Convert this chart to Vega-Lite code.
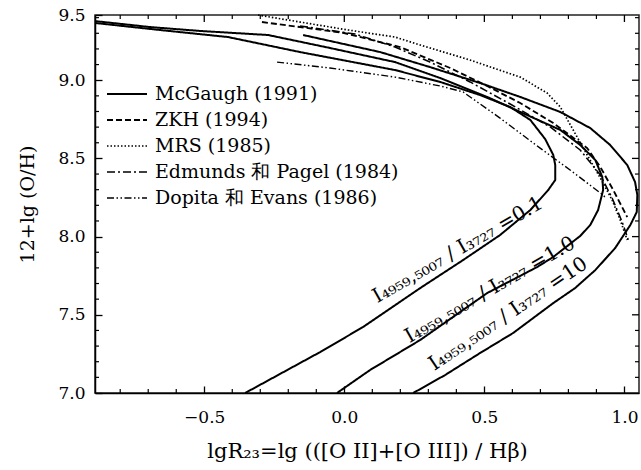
{
  "$schema": "https://vega.github.io/schema/vega-lite/v6.json",
  "width": 544,
  "height": 378,
  "autosize": {"type": "none"},
  "padding": {"left": 95, "top": 15, "right": 2, "bottom": 77},
  "background": "white",
  "config": {"view": {"stroke": "#222", "strokeWidth": 1.5}, "font": "DejaVu Serif"},
  "datasets": {
    "curves": [
      {"s": "McGaugh (1991)", "c": "m01", "o": 1, "x": -0.89, "y": 9.366},
      {"s": "McGaugh (1991)", "c": "m01", "o": 2, "x": -0.658, "y": 9.321},
      {"s": "McGaugh (1991)", "c": "m01", "o": 3, "x": -0.415, "y": 9.276},
      {"s": "McGaugh (1991)", "c": "m01", "o": 4, "x": -0.158, "y": 9.18},
      {"s": "McGaugh (1991)", "c": "m01", "o": 5, "x": 0.181, "y": 9.065},
      {"s": "McGaugh (1991)", "c": "m01", "o": 6, "x": 0.342, "y": 8.989},
      {"s": "McGaugh (1991)", "c": "m01", "o": 7, "x": 0.485, "y": 8.905},
      {"s": "McGaugh (1991)", "c": "m01", "o": 8, "x": 0.592, "y": 8.829},
      {"s": "McGaugh (1991)", "c": "m01", "o": 9, "x": 0.664, "y": 8.746},
      {"s": "McGaugh (1991)", "c": "m01", "o": 10, "x": 0.717, "y": 8.624},
      {"s": "McGaugh (1991)", "c": "m01", "o": 11, "x": 0.746, "y": 8.522},
      {"s": "McGaugh (1991)", "c": "m01", "o": 12, "x": 0.753, "y": 8.458},
      {"s": "McGaugh (1991)", "c": "m01", "o": 13, "x": 0.753, "y": 8.362},
      {"s": "McGaugh (1991)", "c": "m01", "o": 14, "x": 0.728, "y": 8.298},
      {"s": "McGaugh (1991)", "c": "m01", "o": 15, "x": 0.664, "y": 8.17},
      {"s": "McGaugh (1991)", "c": "m01", "o": 16, "x": 0.556, "y": 8.01},
      {"s": "McGaugh (1991)", "c": "m01", "o": 17, "x": 0.424, "y": 7.85},
      {"s": "McGaugh (1991)", "c": "m01", "o": 18, "x": 0.271, "y": 7.671},
      {"s": "McGaugh (1991)", "c": "m01", "o": 19, "x": 0.067, "y": 7.422},
      {"s": "McGaugh (1991)", "c": "m01", "o": 20, "x": -0.086, "y": 7.262},
      {"s": "McGaugh (1991)", "c": "m01", "o": 21, "x": -0.354, "y": 7.0},
      {"s": "McGaugh (1991)", "c": "m1", "o": 1, "x": -0.89, "y": 9.378},
      {"s": "McGaugh (1991)", "c": "m1", "o": 2, "x": -0.694, "y": 9.34},
      {"s": "McGaugh (1991)", "c": "m1", "o": 3, "x": -0.515, "y": 9.315},
      {"s": "McGaugh (1991)", "c": "m1", "o": 4, "x": -0.272, "y": 9.289},
      {"s": "McGaugh (1991)", "c": "m1", "o": 5, "x": -0.051, "y": 9.206},
      {"s": "McGaugh (1991)", "c": "m1", "o": 6, "x": 0.181, "y": 9.116},
      {"s": "McGaugh (1991)", "c": "m1", "o": 7, "x": 0.342, "y": 9.014},
      {"s": "McGaugh (1991)", "c": "m1", "o": 8, "x": 0.51, "y": 8.893},
      {"s": "McGaugh (1991)", "c": "m1", "o": 9, "x": 0.628, "y": 8.797},
      {"s": "McGaugh (1991)", "c": "m1", "o": 10, "x": 0.771, "y": 8.682},
      {"s": "McGaugh (1991)", "c": "m1", "o": 11, "x": 0.842, "y": 8.586},
      {"s": "McGaugh (1991)", "c": "m1", "o": 12, "x": 0.896, "y": 8.49},
      {"s": "McGaugh (1991)", "c": "m1", "o": 13, "x": 0.921, "y": 8.381},
      {"s": "McGaugh (1991)", "c": "m1", "o": 14, "x": 0.924, "y": 8.298},
      {"s": "McGaugh (1991)", "c": "m1", "o": 15, "x": 0.906, "y": 8.17},
      {"s": "McGaugh (1991)", "c": "m1", "o": 16, "x": 0.878, "y": 8.074},
      {"s": "McGaugh (1991)", "c": "m1", "o": 17, "x": 0.842, "y": 8.004},
      {"s": "McGaugh (1991)", "c": "m1", "o": 18, "x": 0.746, "y": 7.87},
      {"s": "McGaugh (1991)", "c": "m1", "o": 19, "x": 0.689, "y": 7.806},
      {"s": "McGaugh (1991)", "c": "m1", "o": 20, "x": 0.51, "y": 7.639},
      {"s": "McGaugh (1991)", "c": "m1", "o": 21, "x": 0.271, "y": 7.339},
      {"s": "McGaugh (1991)", "c": "m1", "o": 22, "x": 0.092, "y": 7.147},
      {"s": "McGaugh (1991)", "c": "m1", "o": 23, "x": -0.026, "y": 7.0},
      {"s": "McGaugh (1991)", "c": "m10", "o": 1, "x": -0.147, "y": 9.289},
      {"s": "McGaugh (1991)", "c": "m10", "o": 2, "x": 0.128, "y": 9.18},
      {"s": "McGaugh (1991)", "c": "m10", "o": 3, "x": 0.306, "y": 9.084},
      {"s": "McGaugh (1991)", "c": "m10", "o": 4, "x": 0.485, "y": 8.982},
      {"s": "McGaugh (1991)", "c": "m10", "o": 5, "x": 0.628, "y": 8.893},
      {"s": "McGaugh (1991)", "c": "m10", "o": 6, "x": 0.771, "y": 8.797},
      {"s": "McGaugh (1991)", "c": "m10", "o": 7, "x": 0.878, "y": 8.694},
      {"s": "McGaugh (1991)", "c": "m10", "o": 8, "x": 0.949, "y": 8.586},
      {"s": "McGaugh (1991)", "c": "m10", "o": 9, "x": 1.01, "y": 8.458},
      {"s": "McGaugh (1991)", "c": "m10", "o": 10, "x": 1.038, "y": 8.349},
      {"s": "McGaugh (1991)", "c": "m10", "o": 11, "x": 1.046, "y": 8.266},
      {"s": "McGaugh (1991)", "c": "m10", "o": 12, "x": 1.044, "y": 8.157},
      {"s": "McGaugh (1991)", "c": "m10", "o": 13, "x": 1.021, "y": 8.074},
      {"s": "McGaugh (1991)", "c": "m10", "o": 14, "x": 0.967, "y": 7.927},
      {"s": "McGaugh (1991)", "c": "m10", "o": 15, "x": 0.896, "y": 7.786},
      {"s": "McGaugh (1991)", "c": "m10", "o": 16, "x": 0.824, "y": 7.671},
      {"s": "McGaugh (1991)", "c": "m10", "o": 17, "x": 0.746, "y": 7.575},
      {"s": "McGaugh (1991)", "c": "m10", "o": 18, "x": 0.603, "y": 7.384},
      {"s": "McGaugh (1991)", "c": "m10", "o": 19, "x": 0.485, "y": 7.256},
      {"s": "McGaugh (1991)", "c": "m10", "o": 20, "x": 0.36, "y": 7.115},
      {"s": "McGaugh (1991)", "c": "m10", "o": 21, "x": 0.246, "y": 7.0},
      {"s": "ZKH (1994)", "c": "zkh", "o": 1, "x": -0.294, "y": 9.372},
      {"s": "ZKH (1994)", "c": "zkh", "o": 2, "x": -0.158, "y": 9.34},
      {"s": "ZKH (1994)", "c": "zkh", "o": 3, "x": -0.001, "y": 9.302},
      {"s": "ZKH (1994)", "c": "zkh", "o": 4, "x": 0.199, "y": 9.212},
      {"s": "ZKH (1994)", "c": "zkh", "o": 5, "x": 0.378, "y": 9.078},
      {"s": "ZKH (1994)", "c": "zkh", "o": 6, "x": 0.51, "y": 8.963},
      {"s": "ZKH (1994)", "c": "zkh", "o": 7, "x": 0.628, "y": 8.854},
      {"s": "ZKH (1994)", "c": "zkh", "o": 8, "x": 0.746, "y": 8.726},
      {"s": "ZKH (1994)", "c": "zkh", "o": 9, "x": 0.867, "y": 8.566},
      {"s": "ZKH (1994)", "c": "zkh", "o": 10, "x": 0.914, "y": 8.445},
      {"s": "ZKH (1994)", "c": "zkh", "o": 11, "x": 0.96, "y": 8.298},
      {"s": "ZKH (1994)", "c": "zkh", "o": 12, "x": 1.01, "y": 8.125},
      {"s": "MRS (1985)", "c": "mrs", "o": 1, "x": -0.308, "y": 9.417},
      {"s": "MRS (1985)", "c": "mrs", "o": 2, "x": -0.158, "y": 9.372},
      {"s": "MRS (1985)", "c": "mrs", "o": 3, "x": 0.014, "y": 9.321},
      {"s": "MRS (1985)", "c": "mrs", "o": 4, "x": 0.181, "y": 9.276},
      {"s": "MRS (1985)", "c": "mrs", "o": 5, "x": 0.271, "y": 9.225},
      {"s": "MRS (1985)", "c": "mrs", "o": 6, "x": 0.449, "y": 9.129},
      {"s": "MRS (1985)", "c": "mrs", "o": 7, "x": 0.628, "y": 9.02},
      {"s": "MRS (1985)", "c": "mrs", "o": 8, "x": 0.724, "y": 8.918},
      {"s": "MRS (1985)", "c": "mrs", "o": 9, "x": 0.771, "y": 8.829},
      {"s": "MRS (1985)", "c": "mrs", "o": 10, "x": 0.817, "y": 8.682},
      {"s": "MRS (1985)", "c": "mrs", "o": 11, "x": 0.867, "y": 8.522},
      {"s": "MRS (1985)", "c": "mrs", "o": 12, "x": 0.914, "y": 8.375},
      {"s": "MRS (1985)", "c": "mrs", "o": 13, "x": 0.956, "y": 8.234},
      {"s": "MRS (1985)", "c": "mrs", "o": 14, "x": 0.985, "y": 8.106},
      {"s": "MRS (1985)", "c": "mrs", "o": 15, "x": 1.01, "y": 7.978},
      {"s": "Edmunds 和 Pagel (1984)", "c": "ep", "o": 1, "x": -0.158, "y": 9.347},
      {"s": "Edmunds 和 Pagel (1984)", "c": "ep", "o": 2, "x": 0.039, "y": 9.295},
      {"s": "Edmunds 和 Pagel (1984)", "c": "ep", "o": 3, "x": 0.181, "y": 9.212},
      {"s": "Edmunds 和 Pagel (1984)", "c": "ep", "o": 4, "x": 0.306, "y": 9.116},
      {"s": "Edmunds 和 Pagel (1984)", "c": "ep", "o": 5, "x": 0.449, "y": 8.989},
      {"s": "Edmunds 和 Pagel (1984)", "c": "ep", "o": 6, "x": 0.592, "y": 8.848},
      {"s": "Edmunds 和 Pagel (1984)", "c": "ep", "o": 7, "x": 0.735, "y": 8.701},
      {"s": "Edmunds 和 Pagel (1984)", "c": "ep", "o": 8, "x": 0.842, "y": 8.554},
      {"s": "Edmunds 和 Pagel (1984)", "c": "ep", "o": 9, "x": 0.914, "y": 8.394},
      {"s": "Edmunds 和 Pagel (1984)", "c": "ep", "o": 10, "x": 0.956, "y": 8.247},
      {"s": "Edmunds 和 Pagel (1984)", "c": "ep", "o": 11, "x": 0.992, "y": 8.093},
      {"s": "Edmunds 和 Pagel (1984)", "c": "ep", "o": 12, "x": 1.014, "y": 7.978},
      {"s": "Dopita 和 Evans (1986)", "c": "de", "o": 1, "x": -0.24, "y": 9.116},
      {"s": "Dopita 和 Evans (1986)", "c": "de", "o": 2, "x": -0.051, "y": 9.078},
      {"s": "Dopita 和 Evans (1986)", "c": "de", "o": 3, "x": 0.181, "y": 9.02},
      {"s": "Dopita 和 Evans (1986)", "c": "de", "o": 4, "x": 0.342, "y": 8.963},
      {"s": "Dopita 和 Evans (1986)", "c": "de", "o": 5, "x": 0.424, "y": 8.925},
      {"s": "Dopita 和 Evans (1986)", "c": "de", "o": 6, "x": 0.556, "y": 8.758},
      {"s": "Dopita 和 Evans (1986)", "c": "de", "o": 7, "x": 0.699, "y": 8.566},
      {"s": "Dopita 和 Evans (1986)", "c": "de", "o": 8, "x": 0.806, "y": 8.426},
      {"s": "Dopita 和 Evans (1986)", "c": "de", "o": 9, "x": 0.914, "y": 8.279},
      {"s": "Dopita 和 Evans (1986)", "c": "de", "o": 10, "x": 0.931, "y": 8.253}
    ],
    "labels": [
      {"k": "0.1", "t": "I₄₉₅₉,₅₀₀₇ / I₃₇₂₇ =0.1", "x": 0.405, "y": 7.915},
      {"k": "1.0", "t": "I₄₉₅₉,₅₀₀₇ / I₃₇₂₇ =1.0", "x": 0.52, "y": 7.66},
      {"k": "10", "t": "I₄₉₅₉,₅₀₀₇ / I₃₇₂₇ =10", "x": 0.585, "y": 7.505}
    ],
    "xt": [
      {"v": -0.8, "m": 0}, {"v": -0.7, "m": 0}, {"v": -0.6, "m": 0}, {"v": -0.5, "m": 1},
      {"v": -0.4, "m": 0}, {"v": -0.3, "m": 0}, {"v": -0.2, "m": 0}, {"v": -0.1, "m": 0},
      {"v": 0.0, "m": 1}, {"v": 0.1, "m": 0}, {"v": 0.2, "m": 0}, {"v": 0.3, "m": 0},
      {"v": 0.4, "m": 0}, {"v": 0.5, "m": 1}, {"v": 0.6, "m": 0}, {"v": 0.7, "m": 0},
      {"v": 0.8, "m": 0}, {"v": 0.9, "m": 0}, {"v": 1.0, "m": 1}
    ],
    "yt": [
      {"v": 7.1, "m": 0}, {"v": 7.2, "m": 0}, {"v": 7.3, "m": 0}, {"v": 7.4, "m": 0}, {"v": 7.5, "m": 1},
      {"v": 7.6, "m": 0}, {"v": 7.7, "m": 0}, {"v": 7.8, "m": 0}, {"v": 7.9, "m": 0}, {"v": 8.0, "m": 1},
      {"v": 8.1, "m": 0}, {"v": 8.2, "m": 0}, {"v": 8.3, "m": 0}, {"v": 8.4, "m": 0}, {"v": 8.5, "m": 1},
      {"v": 8.6, "m": 0}, {"v": 8.7, "m": 0}, {"v": 8.8, "m": 0}, {"v": 8.9, "m": 0}, {"v": 9.0, "m": 1},
      {"v": 9.1, "m": 0}, {"v": 9.2, "m": 0}, {"v": 9.3, "m": 0}, {"v": 9.4, "m": 0}
    ]
  },
  "layer": [
    {
      "data": {"name": "curves"},
      "mark": {"type": "line", "color": "black"},
      "encoding": {
        "x": {
          "field": "x", "type": "quantitative",
          "scale": {"domain": [-0.89, 1.052], "nice": false, "zero": false},
          "axis": {
            "orient": "bottom", "ticks": true, "tickSize": -7, "tickColor": "black", "tickWidth": 1.3,
            "domain": true, "domainColor": "black", "domainWidth": 1.5, "grid": false,
            "values": [-0.5, 0, 0.5, 1.0],
            "format": ".1f",
            "labelFont": "DejaVu Serif", "labelFontSize": 17, "labelColor": "black",
            "labelPadding": 23, "labelFlush": false, "labelOverlap": false, "labelBound": false,
            "title": "lgR₂₃=lg (([O II]+[O III]) / Hβ)",
            "titleFont": "DejaVu Serif", "titleFontSize": 21, "titleFontWeight": "normal", "titleColor": "black",
            "titlePadding": 15
          }
        },
        "y": {
          "field": "y", "type": "quantitative",
          "scale": {"domain": [7.0, 9.417], "nice": false, "zero": false},
          "axis": {
            "orient": "left", "ticks": true, "tickSize": -7, "tickColor": "black", "tickWidth": 1.3,
            "domain": true, "domainColor": "black", "domainWidth": 1.5, "grid": false,
            "values": [7.0, 7.5, 8.0, 8.5, 9.0, 9.417],
            "labelExpr": "datum.value > 9.41 ? '9.5' : format(datum.value, '.1f')",
            "labelFont": "DejaVu Serif", "labelFontSize": 17, "labelColor": "black",
            "labelPadding": 17, "labelFlush": false, "labelOverlap": false, "labelBound": false,
            "title": "12+lg (O/H)",
            "titleFont": "DejaVu Serif", "titleFontSize": 19, "titleFontWeight": "normal", "titleColor": "black",
            "titlePadding": 20
          }
        },
        "detail": {"field": "c", "type": "nominal"},
        "order": {"field": "o", "type": "quantitative"},
        "strokeDash": {
          "field": "s", "type": "nominal",
          "scale": {
            "domain": ["McGaugh (1991)", "ZKH (1994)", "MRS (1985)", "Edmunds 和 Pagel (1984)", "Dopita 和 Evans (1986)"],
            "range": [[1, 0], [6, 3], [1.5, 2], [8, 3, 2, 3], [7, 2.5, 1.5, 2.5, 1.5, 2.5]]
          },
          "legend": {
            "orient": "none", "legendX": 21, "legendY": 68, "title": null, "padding": 0,
            "symbolType": "M-2,0H2", "symbolSize": 400, "symbolStrokeWidth": 1.6, "symbolStrokeColor": "black",
            "labelFont": "DejaVu Serif", "labelFontSize": 19, "labelColor": "black",
            "labelOffset": 17, "rowPadding": 5, "labelLimit": 400
          }
        },
        "strokeWidth": {
          "field": "s", "type": "nominal",
          "scale": {
            "domain": ["McGaugh (1991)", "ZKH (1994)", "MRS (1985)", "Edmunds 和 Pagel (1984)", "Dopita 和 Evans (1986)"],
            "range": [2, 1.4, 1.4, 1.4, 1.4]
          },
          "legend": null
        }
      }
    },
    {
      "data": {"name": "labels"},
      "transform": [{"filter": "datum.k != '10'"}],
      "mark": {"type": "text", "angle": -30, "font": "DejaVu Serif", "fontSize": 20, "color": "black", "align": "center", "baseline": "middle"},
      "encoding": {
        "x": {"field": "x", "type": "quantitative"},
        "y": {"field": "y", "type": "quantitative"},
        "text": {"field": "t"}
      }
    },
    {
      "data": {"name": "labels"},
      "transform": [{"filter": "datum.k == '10'"}],
      "mark": {"type": "text", "angle": -34, "font": "DejaVu Serif", "fontSize": 20, "color": "black", "align": "center", "baseline": "middle"},
      "encoding": {
        "x": {"field": "x", "type": "quantitative"},
        "y": {"field": "y", "type": "quantitative"},
        "text": {"field": "t"}
      }
    },
    {
      "data": {"name": "xt"},
      "transform": [{"filter": "datum.m == 0"}],
      "mark": {"type": "point", "shape": "M0,0V-1", "size": 64, "filled": false, "strokeWidth": 1.2, "color": "black", "opacity": 1},
      "encoding": {
        "x": {"field": "v", "type": "quantitative"},
        "y": {"datum": 7.0, "type": "quantitative"}
      }
    },
    {
      "data": {"name": "xt"},
      "transform": [{"filter": "datum.m == 0"}],
      "mark": {"type": "point", "shape": "M0,0V1", "size": 64, "filled": false, "strokeWidth": 1.2, "color": "black", "opacity": 1},
      "encoding": {
        "x": {"field": "v", "type": "quantitative"},
        "y": {"datum": 9.417, "type": "quantitative"}
      }
    },
    {
      "data": {"name": "xt"},
      "transform": [{"filter": "datum.m == 1"}],
      "mark": {"type": "point", "shape": "M0,0V1", "size": 196, "filled": false, "strokeWidth": 1.3, "color": "black", "opacity": 1},
      "encoding": {
        "x": {"field": "v", "type": "quantitative"},
        "y": {"datum": 9.417, "type": "quantitative"}
      }
    },
    {
      "data": {"name": "yt"},
      "transform": [{"filter": "datum.m == 0"}],
      "mark": {"type": "point", "shape": "M0,0H1", "size": 64, "filled": false, "strokeWidth": 1.2, "color": "black", "opacity": 1},
      "encoding": {
        "y": {"field": "v", "type": "quantitative"},
        "x": {"datum": -0.89, "type": "quantitative"}
      }
    },
    {
      "data": {"name": "yt"},
      "transform": [{"filter": "datum.m == 0"}],
      "mark": {"type": "point", "shape": "M0,0H-1", "size": 64, "filled": false, "strokeWidth": 1.2, "color": "black", "opacity": 1},
      "encoding": {
        "y": {"field": "v", "type": "quantitative"},
        "x": {"datum": 1.052, "type": "quantitative"}
      }
    },
    {
      "data": {"name": "yt"},
      "transform": [{"filter": "datum.m == 1"}],
      "mark": {"type": "point", "shape": "M0,0H-1", "size": 196, "filled": false, "strokeWidth": 1.3, "color": "black", "opacity": 1},
      "encoding": {
        "y": {"field": "v", "type": "quantitative"},
        "x": {"datum": 1.052, "type": "quantitative"}
      }
    }
  ]
}
